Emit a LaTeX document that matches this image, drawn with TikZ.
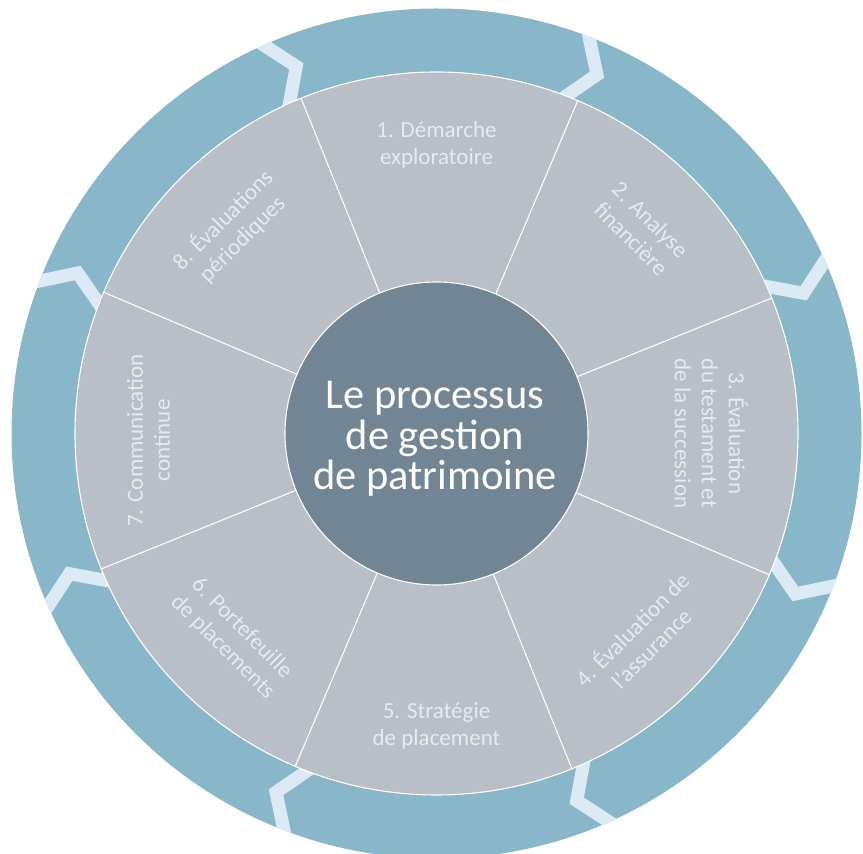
\documentclass[tikz,border=0pt]{standalone}
\usepackage{fontspec}
\setmainfont{Carlito}
\definecolor{ringc}{HTML}{89B7CA}
\definecolor{chevc}{HTML}{DCEAF5}
\definecolor{segc}{HTML}{B9BFC7}
\definecolor{hubc}{HTML}{718594}
\definecolor{labelc}{HTML}{E8EBEE}
\begin{document}
\begin{tikzpicture}[x=1pt,y=1pt,
  lbl/.style={text=labelc, align=center, font=\fontsize{23}{27}\selectfont, inner sep=0pt},
  chev/.style={draw=chevc, line width=13pt, line join=miter, miter limit=10},
  divider/.style={draw=white, line width=1.1pt}]
\useasboundingbox (0,0) rectangle (863,854);
\begin{scope}[shift={(436.5,420.5)}]
  \fill[ringc] (0,0) circle (425);
  \begin{scope}
    \clip (0,0) circle (425);
    \foreach \t in {22.5,67.5,...,337.5}
      \draw[chev] ({\t+2.4}:436) -- ({\t-1.6}:393) -- ({\t+2.8}:350);
  \end{scope}
  \node[circle, fill=segc, draw=white, line width=1.1pt, minimum size=723pt, inner sep=0pt, outer sep=0pt] (wheel) at (0,0) {};
  \node[circle, fill=hubc, draw=white, line width=1.1pt, minimum size=303pt, inner sep=0pt, outer sep=0pt] (hub) at (0,0) {};
  \foreach \t in {22.5,67.5,...,337.5}
    \draw[divider] (hub.\t) -- (wheel.\t);
  \node[text=white, align=center, font=\fontsize{42.5}{40.5}\selectfont, inner sep=0pt] (title) at (-1.5,-5.5)
    {Le processus\\de gestion\\de patrimoine};
  \node[lbl] (s1) at (90:289) {1. Démarche\\exploratoire};
  \node[lbl, rotate=-45] (s2) at (45:289) {2. Analyse\\financière};
  \node[lbl, rotate=-90] (s3) at (0:275) {3. Évaluation\\du testament et\\de la succession};
  \node[lbl, rotate=45] (s4) at (-45:289) {4. Évaluation de\\l’assurance};
  \node[lbl] (s5) at (-90:292) {5. Stratégie\\de placement};
  \node[lbl, rotate=-45] (s6) at (-135:289) {6. Portefeuille\\de placements};
  \node[lbl, rotate=90] (s7) at (-288,-7) {7. Communication\\continue};
  \node[lbl, rotate=45] (s8) at (135:289) {8. Évaluations\\périodiques};
\end{scope}
\end{tikzpicture}
\end{document}
